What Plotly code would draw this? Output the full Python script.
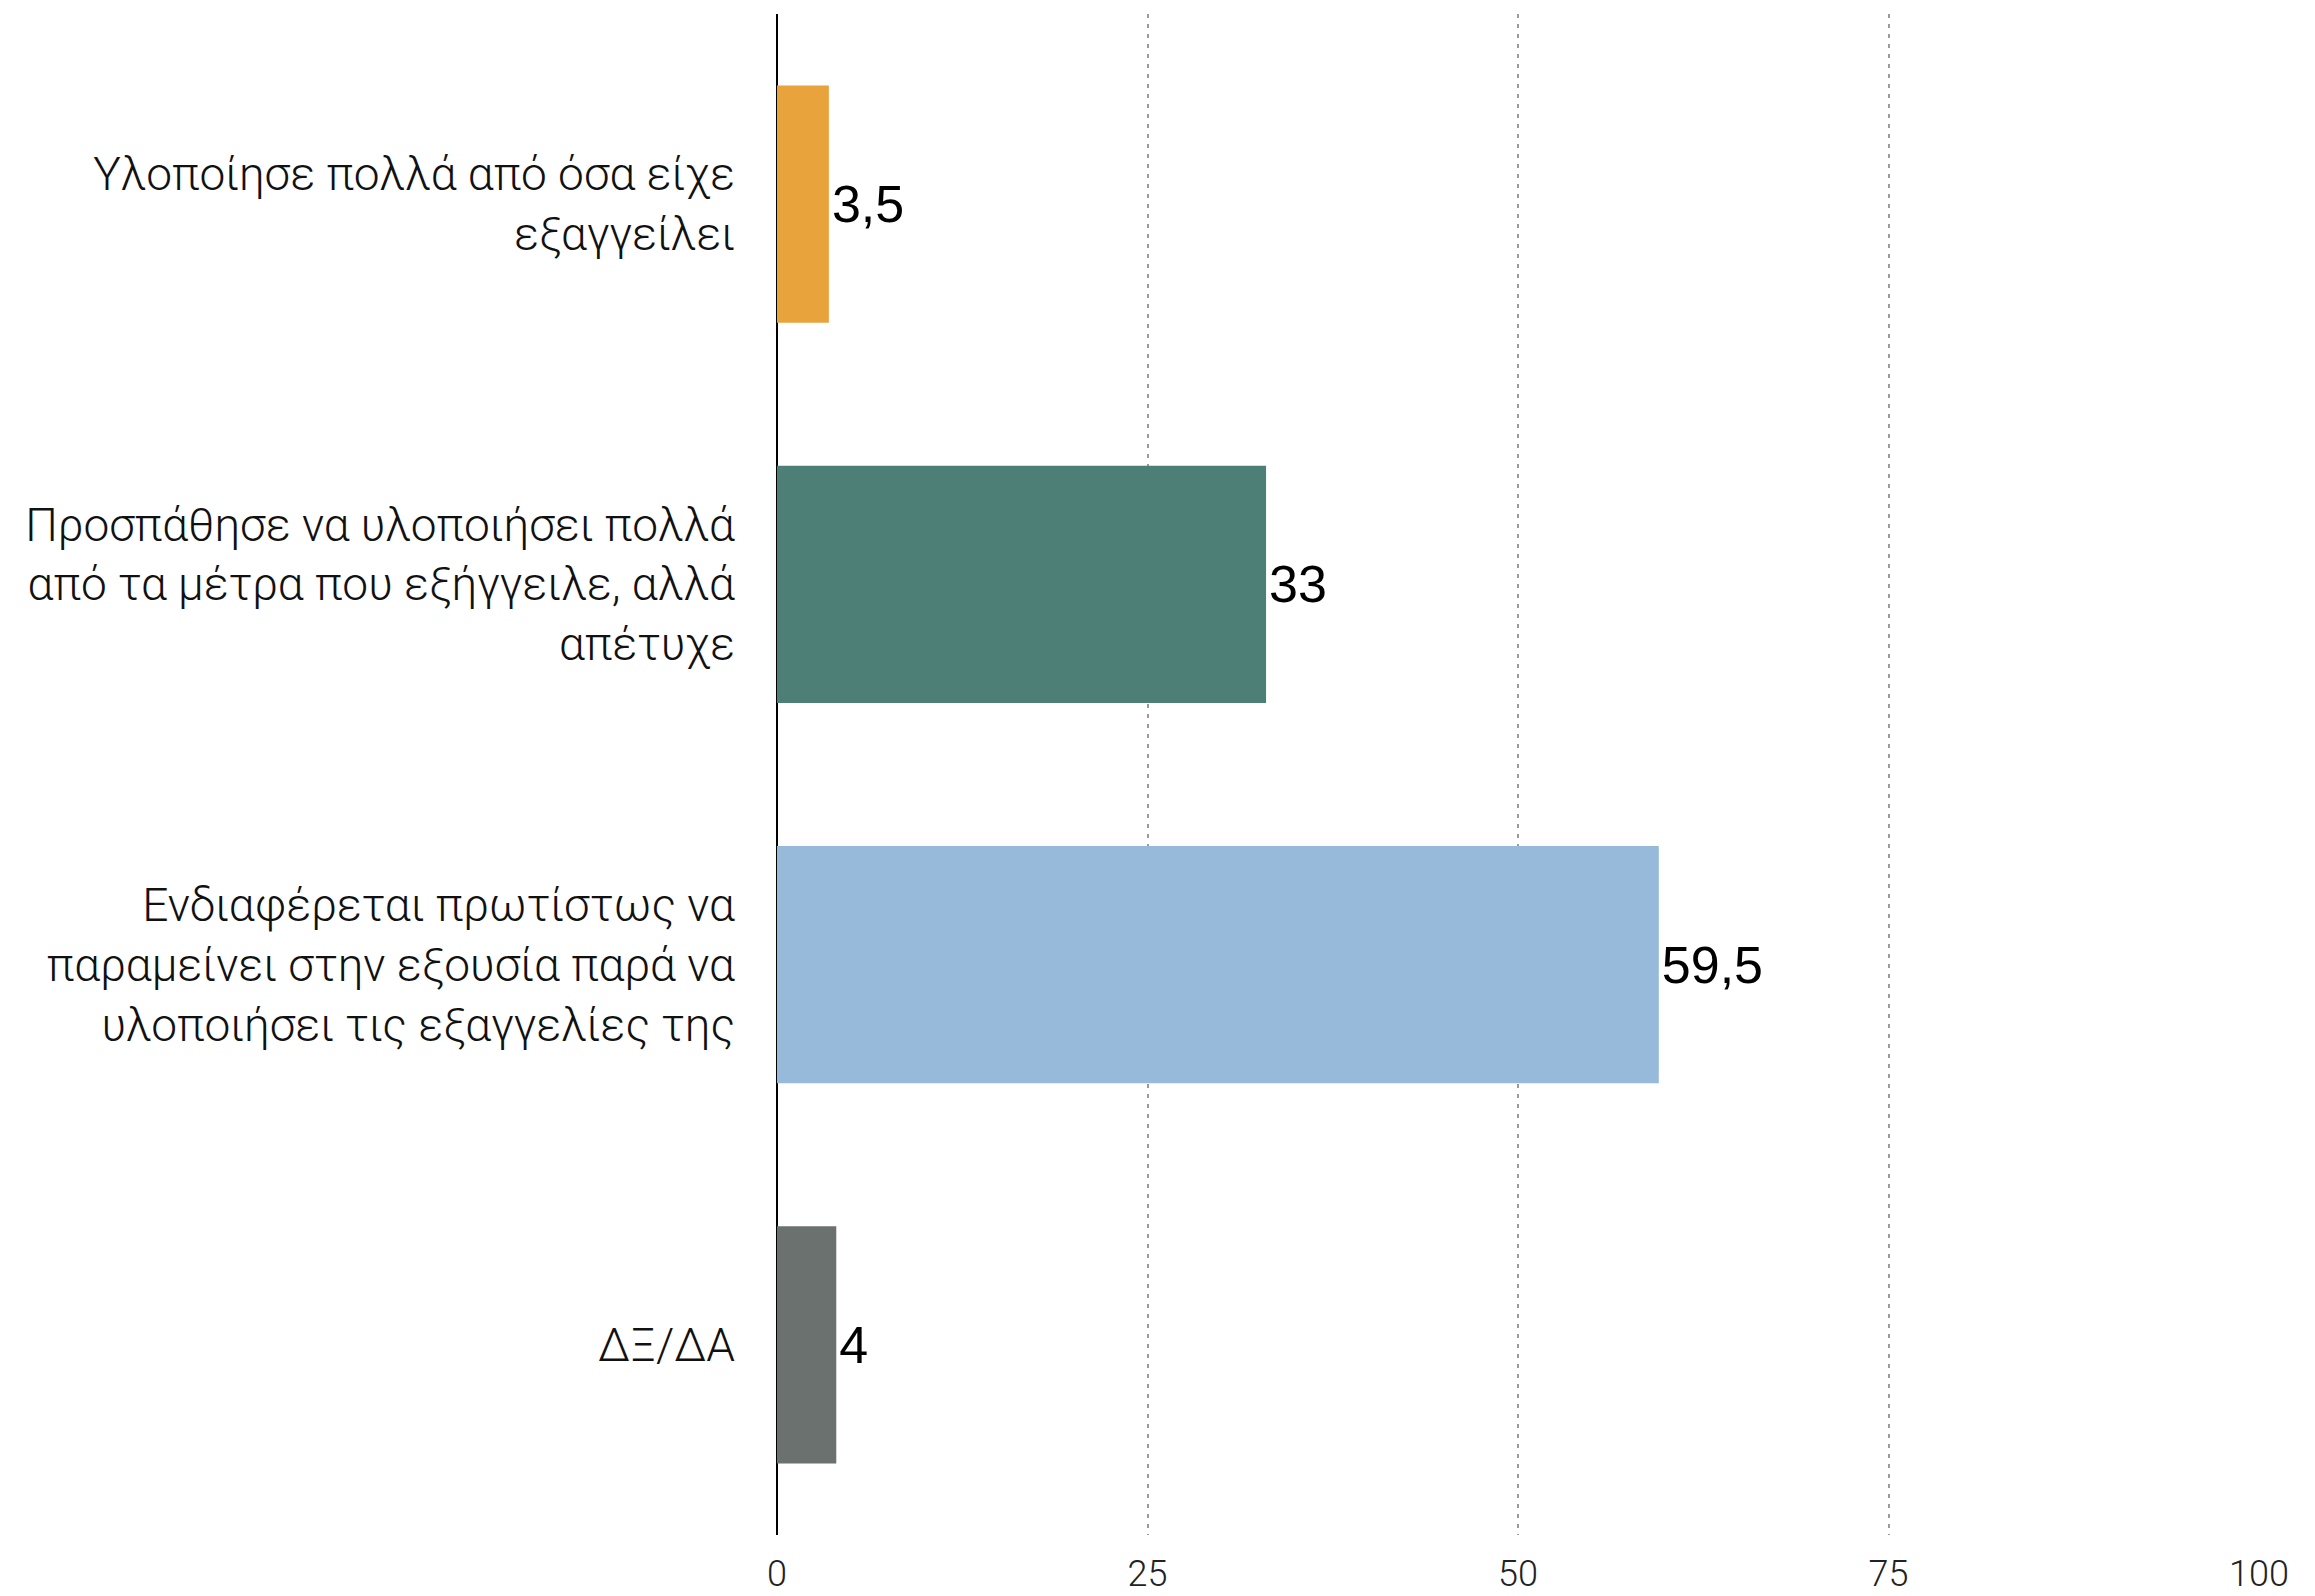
import plotly.graph_objects as go

# answers, top to bottom
categories = [
    "Υλοποίησε πολλά από όσα είχε<br>εξαγγείλει",
    "Προσπάθησε να υλοποιήσει πολλά<br>από τα μέτρα που εξήγγειλε, αλλά<br>απέτυχε",
    "Ενδιαφέρεται πρωτίστως να<br>παραμείνει στην εξουσία παρά να<br>υλοποιήσει τις εξαγγελίες της",
    "ΔΞ/ΔΑ",
]
values = [3.5, 33, 59.5, 4]
value_labels = ["3,5", "33", "59,5", "4"]
bar_colors = ["#E8A33D", "#4E7F76", "#97B9DA", "#6B716E"]
tick_vals = [0, 25, 50, 75, 100]

fig = go.Figure(go.Bar(
    x=values,
    y=categories,
    orientation="h",
    marker=dict(color=bar_colors, line=dict(width=0)),
    text=value_labels,
    textposition="outside",
    textfont=dict(family="Liberation Sans, Arial", size=52, color="black"),
    cliponaxis=False,
))

fig.update_layout(
    width=2315, height=1596,
    margin=dict(l=777, r=56, t=14, b=61, autoexpand=False),
    plot_bgcolor="white", paper_bgcolor="white",
    bargap=0.376,
    showlegend=False,
    font=dict(family="Roboto, Liberation Sans", color="black"),
)
fig.update_xaxes(
    range=[0, 100],
    tickvals=tick_vals,
    ticktext=[str(v) for v in tick_vals],
    tickfont=dict(size=36, family="Roboto", weight=300, color="#222"),
    ticklabelstandoff=14,
    showgrid=True, gridcolor="#9a9a9a", gridwidth=1.5, griddash="4px,6px",
    zeroline=True, zerolinecolor="black", zerolinewidth=2,
    showline=False, ticks="",
    fixedrange=True,
)
fig.update_yaxes(
    autorange="reversed",
    tickfont=dict(size=46, family="Roboto", weight=300, color="#111"),
    ticklabelstandoff=41,
    showgrid=False, showline=False, ticks="",
    automargin=False,
)

# drop the browser's default body margin so the figure fills the window
fig.write_html("out.html", config={"displayModeBar": False},
               post_script="document.body.style.margin='0';")
